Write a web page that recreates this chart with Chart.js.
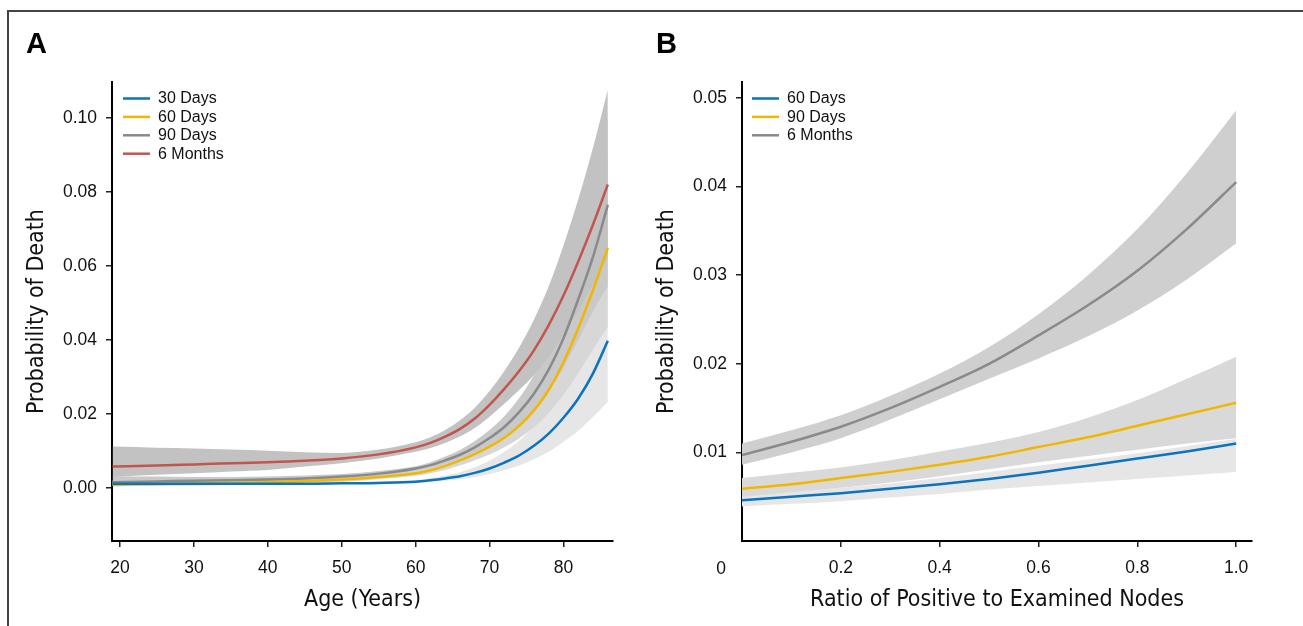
<!DOCTYPE html>
<html>
<head>
<meta charset="utf-8">
<script src="https://cdn.jsdelivr.net/npm/chart.js@4.4.1/dist/chart.umd.min.js"></script>
<style>
  html, body { margin: 0; padding: 0; background: #fff; }
  #wrap { position: relative; width: 1303px; height: 626px; overflow: hidden; }
  #frame { position: absolute; left: 7px; top: 10px; width: 1310px; height: 640px; border-top: 2px solid #444; border-left: 2px solid #444; }
  #boxA { position: absolute; left: 0; top: 0; width: 630px; height: 626px; }
  #boxB { position: absolute; left: 630px; top: 0; width: 673px; height: 626px; }
</style>
</head>
<body>
<div id="wrap">
  <div id="frame"></div>
  <div id="boxA"><canvas id="chartA"></canvas></div>
  <div id="boxB"><canvas id="chartB"></canvas></div>
</div>
<script>
// Panel A: age (years)
const ageA = [19, 25, 30, 35, 40, 45, 50, 55, 60, 62, 64, 66, 68, 70, 72, 74, 76, 78, 80, 82, 84, 86];
const days30 = [0.0012, 0.0012, 0.0012, 0.0012, 0.0012, 0.0012, 0.0013, 0.0014, 0.0017, 0.0021, 0.0026, 0.0032, 0.0041, 0.0053, 0.0069, 0.0088, 0.0114, 0.0147, 0.0190, 0.0242, 0.0310, 0.0398];
const days30Lo = [0.0006, 0.0007, 0.0007, 0.0008, 0.0008, 0.0009, 0.0010, 0.0011, 0.0014, 0.0017, 0.0020, 0.0024, 0.0030, 0.0038, 0.0048, 0.0061, 0.0078, 0.0098, 0.0125, 0.0155, 0.0192, 0.0233];
const days30Hi = [0.0022, 0.0021, 0.0020, 0.0019, 0.0018, 0.0017, 0.0017, 0.0018, 0.0021, 0.0027, 0.0034, 0.0043, 0.0056, 0.0074, 0.0098, 0.0128, 0.0168, 0.0222, 0.0290, 0.0375, 0.0495, 0.0660];
const days60 = [0.0009, 0.0011, 0.0013, 0.0014, 0.0016, 0.0019, 0.0023, 0.0030, 0.0040, 0.0048, 0.0060, 0.0075, 0.0092, 0.0112, 0.0136, 0.0168, 0.0210, 0.0265, 0.0340, 0.0432, 0.0535, 0.0649];
const days60Lo = [0.0004, 0.0006, 0.0007, 0.0008, 0.0010, 0.0013, 0.0017, 0.0024, 0.0033, 0.0040, 0.0049, 0.0061, 0.0075, 0.0091, 0.0110, 0.0134, 0.0164, 0.0203, 0.0252, 0.0310, 0.0375, 0.0436];
const days60Hi = [0.0020, 0.0020, 0.0021, 0.0022, 0.0023, 0.0026, 0.0030, 0.0037, 0.0048, 0.0058, 0.0072, 0.0090, 0.0111, 0.0137, 0.0168, 0.0210, 0.0265, 0.0338, 0.0435, 0.0560, 0.0715, 0.0900];
const days90 = [0.0016, 0.0018, 0.0020, 0.0021, 0.0023, 0.0026, 0.0031, 0.0039, 0.0053, 0.0062, 0.0075, 0.0090, 0.0110, 0.0135, 0.0165, 0.0205, 0.0255, 0.0320, 0.0405, 0.0510, 0.0625, 0.0765];
const days90Lo = [0.0008, 0.0010, 0.0012, 0.0014, 0.0016, 0.0020, 0.0025, 0.0033, 0.0047, 0.0055, 0.0066, 0.0079, 0.0095, 0.0116, 0.0140, 0.0172, 0.0212, 0.0262, 0.0326, 0.0400, 0.0478, 0.0545];
const days90Hi = [0.0032, 0.0031, 0.0030, 0.0030, 0.0031, 0.0034, 0.0038, 0.0046, 0.0059, 0.0070, 0.0085, 0.0103, 0.0127, 0.0157, 0.0194, 0.0243, 0.0305, 0.0387, 0.0495, 0.0630, 0.0790, 0.1000];
const months6 = [0.0058, 0.0061, 0.0064, 0.0067, 0.0070, 0.0074, 0.0080, 0.0091, 0.0110, 0.0122, 0.0139, 0.0160, 0.0188, 0.0225, 0.0268, 0.0316, 0.0372, 0.0440, 0.0520, 0.0612, 0.0712, 0.0820];
const months6Lo = [0.0030, 0.0036, 0.0040, 0.0045, 0.0049, 0.0058, 0.0067, 0.0080, 0.0098, 0.0108, 0.0122, 0.0139, 0.0162, 0.0193, 0.0228, 0.0265, 0.0305, 0.0355, 0.0415, 0.0480, 0.0550, 0.0625];
const months6Hi = [0.0112, 0.0109, 0.0107, 0.0104, 0.0101, 0.0097, 0.0095, 0.0104, 0.0124, 0.0137, 0.0157, 0.0183, 0.0217, 0.0262, 0.0316, 0.0380, 0.0455, 0.0545, 0.0655, 0.0780, 0.0920, 0.1076];
const xTicksA = [20, 30, 40, 50, 60, 70, 80];
const yTicksA = [0, 0.02, 0.04, 0.06, 0.08, 0.10];

// Panel B: ratio of positive to examined nodes
const ratioB = [0, 0.1, 0.2, 0.3, 0.4, 0.5, 0.6, 0.7, 0.8, 0.9, 1.0];
const b60 = [0.0046, 0.0050, 0.0054, 0.0059, 0.0064, 0.0070, 0.0077, 0.0085, 0.0093, 0.0101, 0.0110];
const b60Lo = [0.0039, 0.0042, 0.0045, 0.0049, 0.0053, 0.0058, 0.0062, 0.0066, 0.0070, 0.0074, 0.0078];
const b60Hi = [0.0052, 0.0056, 0.0060, 0.0065, 0.0071, 0.0078, 0.0085, 0.0092, 0.0099, 0.0107, 0.0115];
const b90 = [0.0059, 0.0064, 0.0071, 0.0078, 0.0086, 0.0095, 0.0106, 0.0117, 0.0130, 0.0143, 0.0156];
const b90Lo = [0.0050, 0.0055, 0.0060, 0.0066, 0.0073, 0.0081, 0.0089, 0.0096, 0.0103, 0.0110, 0.0116];
const b90Hi = [0.0071, 0.0077, 0.0083, 0.0091, 0.0101, 0.0111, 0.0123, 0.0139, 0.0159, 0.0183, 0.0208];
const b6m = [0.0097, 0.0112, 0.0129, 0.0150, 0.0174, 0.0200, 0.0232, 0.0266, 0.0305, 0.0352, 0.0405];
const b6mLo = [0.0086, 0.0100, 0.0116, 0.0137, 0.0160, 0.0183, 0.0206, 0.0231, 0.0260, 0.0295, 0.0336];
const b6mHi = [0.0110, 0.0125, 0.0142, 0.0164, 0.0189, 0.0219, 0.0256, 0.0300, 0.0352, 0.0415, 0.0486];
const xTicksB = [0.2, 0.4, 0.6, 0.8, 1.0];
const yTicksB = [0.01, 0.02, 0.03, 0.04, 0.05];

// colours
const BLUE = "#0a74bd";
const YELLOW = "#f1b700";
const GRAY = "#8a8a8a";
const RED = "#c1564f";

const tickFont = { family: '"Liberation Sans", Arial, sans-serif', size: 17.5 };
const titleFont = { family: '"Liberation Sans Narrow", "DejaVu Sans Condensed", "Liberation Sans", sans-serif', size: 23 };

function pts(xs, ys) {
  return xs.map((x, i) => ({ x: x, y: ys[i] }));
}

// two datasets: lower edge, then upper edge filled down to it
function band(xs, lo, hi, color, order) {
  return [
    { data: pts(xs, lo), borderWidth: 0, pointRadius: 0, fill: false, order: order, band: true, cubicInterpolationMode: "monotone" },
    { data: pts(xs, hi), borderWidth: 0, pointRadius: 0, fill: "-1", backgroundColor: color, order: order, band: true, cubicInterpolationMode: "monotone" }
  ];
}

function line(label, xs, ys, color) {
  return { label: label, data: pts(xs, ys), borderColor: color, borderWidth: 2.5, pointRadius: 0, fill: false, order: 0, cubicInterpolationMode: "monotone" };
}

// panel letter, legend and the stray "0" label
const decorPlugin = {
  id: "decor",
  afterDraw(chart, args, opts) {
    const ctx = chart.ctx;
    ctx.save();
    ctx.fillStyle = "#000";
    ctx.font = 'bold 29px "Liberation Sans", Arial, sans-serif';
    ctx.textBaseline = "alphabetic";
    ctx.fillText(opts.letter, 26, 53);

    ctx.font = '16px "Liberation Sans", Arial, sans-serif';
    ctx.textBaseline = "middle";
    ctx.fillStyle = "#111";
    const items = chart.data.datasets.filter((d) => !d.band);
    items.forEach((d, i) => {
      const y = opts.legendY + i * 18.4;
      ctx.strokeStyle = d.borderColor;
      ctx.lineWidth = 2.5;
      ctx.beginPath();
      ctx.moveTo(opts.legendX, y);
      ctx.lineTo(opts.legendX + 27, y);
      ctx.stroke();
      ctx.fillText(d.label, opts.legendX + 35, y + 0.5);
    });

    if (opts.zeroLabel) {
      const xs = chart.scales.x;
      ctx.font = '17.5px "Liberation Sans", Arial, sans-serif';
      ctx.textAlign = "center";
      ctx.fillText("0", xs.getPixelForValue(0) - 21, 569);
    }
    ctx.restore();
  }
};

function axisX(min, max, ticks, fmt, title) {
  return {
    type: "linear", min: min, max: max,
    afterBuildTicks: (s) => { s.ticks = ticks.map((v) => ({ value: v })); },
    afterFit: (s) => { s.height = 85; },
    ticks: { font: tickFont, color: "#111", padding: 11, maxRotation: 0, callback: fmt },
    grid: { drawOnChartArea: false, drawTicks: true, tickLength: 6, color: "#222", lineWidth: 1.5 },
    border: { display: true, color: "#000", width: 2 },
    title: { display: true, text: title, font: titleFont, color: "#111", padding: { top: 0, bottom: 12 } }
  };
}

function axisY(min, max, ticks, fmt) {
  return {
    type: "linear", min: min, max: max,
    afterBuildTicks: (s) => { s.ticks = ticks.map((v) => ({ value: v })); },
    afterFit: (s) => { s.width = 112; },
    ticks: { font: tickFont, color: "#111", padding: 9, callback: fmt },
    grid: { drawOnChartArea: false, drawTicks: true, tickLength: 6, color: "#222", lineWidth: 1.5 },
    border: { display: true, color: "#000", width: 2 },
    title: { display: true, text: "Probability of Death", font: titleFont, color: "#111", padding: { top: 23, bottom: 0 } }
  };
}

const baseOptions = {
  responsive: true,
  maintainAspectRatio: false,
  animation: false,
  devicePixelRatio: 1,
  plugins: { legend: { display: false }, tooltip: { enabled: false } }
};

new Chart(document.getElementById("chartA"), {
  type: "line",
  data: {
    datasets: [
      line("30 Days", ageA, days30, BLUE),
      line("60 Days", ageA, days60, YELLOW),
      line("90 Days", ageA, days90, GRAY),
      line("6 Months", ageA, months6, RED),
      ...band(ageA, months6Lo, months6Hi, "#c2c2c2", 1),
      ...band(ageA, days90Lo, days90Hi, "#c9c9c9", 2),
      ...band(ageA, days60Lo, days60Hi, "#d7d7d7", 3),
      ...band(ageA, days30Lo, days30Hi, "#e6e6e6", 4)
    ]
  },
  options: {
    ...baseOptions,
    layout: { padding: { left: 0, top: 82, right: 17, bottom: 0 } },
    scales: {
      x: axisX(18.92, 86.7, xTicksA, (v) => String(v), "Age (Years)"),
      y: axisY(-0.0143, 0.1097, yTicksA, (v) => v.toFixed(2))
    },
    plugins: { ...baseOptions.plugins, decor: { letter: "A", legendX: 123, legendY: 98.5 } }
  },
  plugins: [decorPlugin]
});

new Chart(document.getElementById("chartB"), {
  type: "line",
  data: {
    datasets: [
      line("60 Days", ratioB, b60, BLUE),
      line("90 Days", ratioB, b90, YELLOW),
      line("6 Months", ratioB, b6m, GRAY),
      ...band(ratioB, b6mLo, b6mHi, "#cfcfcf", 1),
      ...band(ratioB, b90Lo, b90Hi, "#d9d9d9", 2),
      ...band(ratioB, b60Lo, b60Hi, "#e6e6e6", 3)
    ]
  },
  options: {
    ...baseOptions,
    layout: { padding: { left: 0, top: 82, right: 51, bottom: 0 } },
    scales: {
      x: axisX(0, 1.032, xTicksB, (v) => v.toFixed(1), "Ratio of Positive to Examined Nodes"),
      y: axisY(0, 0.0518, yTicksB, (v) => v.toFixed(2))
    },
    plugins: { ...baseOptions.plugins, decor: { letter: "B", legendX: 122, legendY: 98.5, zeroLabel: true } }
  },
  plugins: [decorPlugin]
});
</script>
</body>
</html>
